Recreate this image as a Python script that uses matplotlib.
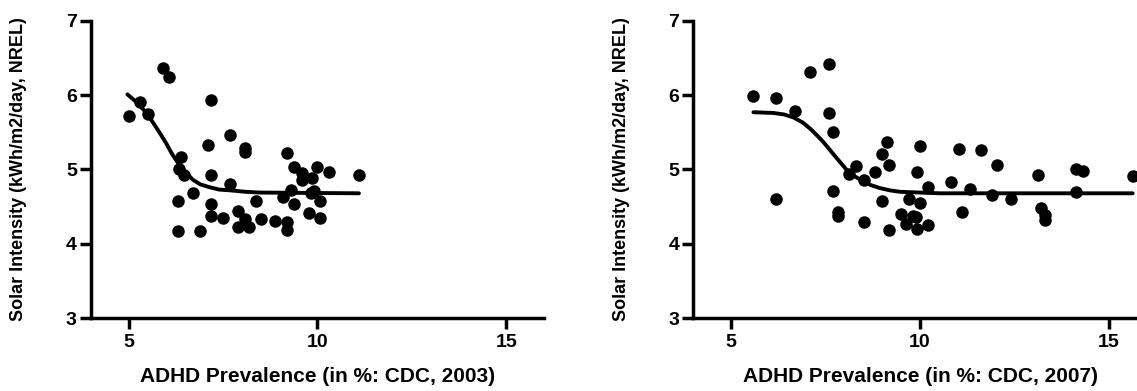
import matplotlib
matplotlib.use('Agg')
import matplotlib.pyplot as plt

plt.rcParams['font.family'] = ['Liberation Sans', 'DejaVu Sans']
plt.rcParams['font.weight'] = 'bold'

# ADHD prevalence 2003 vs solar intensity
x03 = [5.00, 5.30, 5.51, 5.91, 6.08, 7.18, 7.10, 7.68, 8.09, 8.09, 6.40, 6.34, 6.48, 7.18, 7.68,
       6.70, 6.30, 6.30, 6.90, 7.18, 7.18, 7.50, 7.90, 8.09, 7.90, 8.19, 8.38, 8.50, 8.89, 9.20,
       9.20, 9.20, 9.10, 9.29, 9.39, 9.39, 9.60, 9.60, 9.87, 9.98, 10.30, 9.82, 9.91, 9.79, 10.08,
       10.08, 11.09]
y03 = [5.72, 5.91, 5.74, 6.37, 6.25, 5.94, 5.33, 5.46, 5.29, 5.24, 5.17, 5.01, 4.92, 4.92, 4.81,
       4.68, 4.58, 4.17, 4.17, 4.54, 4.37, 4.35, 4.44, 4.34, 4.23, 4.23, 4.57, 4.34, 4.31, 4.29,
       4.18, 5.22, 4.63, 4.72, 5.03, 4.53, 4.95, 4.86, 4.88, 5.03, 4.97, 4.68, 4.71, 4.41, 4.57,
       4.35, 4.93]
# fitted curve
fit03_x = [4.97, 5.20, 5.48, 5.65, 5.83, 6.00, 6.14, 6.28, 6.41, 6.55, 6.71, 6.90, 7.16, 7.40,
           7.69, 8.10, 8.48, 11.10]
fit03_y = [6.01, 5.91, 5.76, 5.63, 5.49, 5.35, 5.22, 5.11, 5.02, 4.94, 4.86, 4.80, 4.76, 4.73,
           4.72, 4.70, 4.69, 4.68]

# ADHD prevalence 2007 vs solar intensity
x07 = [5.59, 6.20, 6.20, 6.69, 7.10, 7.60, 7.60, 7.70, 7.70, 7.82, 7.82, 8.11, 8.30, 8.51, 8.51,
       8.81, 9.00, 9.12, 9.19, 9.00, 9.19, 9.50, 9.62, 9.71, 9.82, 9.91, 9.91, 10.01, 10.01, 10.20,
       10.20, 9.90, 10.82, 11.02, 11.12, 11.33, 11.62, 11.90, 12.03, 12.41, 13.13, 13.20, 13.32,
       13.32, 14.12, 14.13, 14.31, 15.63]
y07 = [5.99, 5.96, 4.61, 5.79, 6.31, 6.42, 5.76, 5.50, 4.71, 4.43, 4.37, 4.94, 5.05, 4.86, 4.30,
       4.96, 5.21, 5.37, 5.06, 4.57, 4.19, 4.40, 4.27, 4.60, 4.37, 4.97, 4.20, 4.55, 5.32, 4.76,
       4.26, 4.36, 4.83, 5.28, 4.43, 4.74, 5.26, 4.66, 5.06, 4.60, 4.92, 4.48, 4.39, 4.32,
       4.70, 5.00, 4.98, 4.91]
fit07_x = [5.59, 6.12, 6.40, 6.65, 6.90, 7.09, 7.27, 7.44, 7.62, 7.80, 7.95, 8.10, 8.30, 8.50,
           8.70, 8.94, 9.20, 9.47, 10.00, 10.53, 15.63]
fit07_y = [5.77, 5.76, 5.74, 5.70, 5.63, 5.55, 5.46, 5.37, 5.26, 5.15, 5.06, 4.97, 4.90, 4.84,
           4.79, 4.75, 4.72, 4.70, 4.69, 4.68, 4.68]

xticks = [5, 10, 15]
yticks = [3, 4, 5, 6, 7]
ylabel = 'Solar Intensity (kWh/m2/day, NREL)'

fig = plt.figure(figsize=(11.37, 3.91), dpi=100)
ax1 = fig.add_axes([0.0798, 0.186, 0.3987, 0.761])
ax2 = fig.add_axes([0.6098, 0.186, 0.3987, 0.761])

panels = [(ax1, x03, y03, fit03_x, fit03_y, '2003'),
          (ax2, x07, y07, fit07_x, fit07_y, '2007')]

for ax, xs, ys, fx, fy, year in panels:
    ax.plot(xs, ys, 'o', color='black', ms=9, mew=0, clip_on=False, zorder=3)
    ax.plot(fx, fy, '-', color='black', lw=2.8, solid_capstyle='round', zorder=2)
    ax.set_xlim(4, 16)
    ax.set_ylim(3, 7)
    ax.set_xticks(xticks)
    ax.set_yticks(yticks)
    ax.spines['top'].set_visible(False)
    ax.spines['right'].set_visible(False)
    ax.spines['left'].set_linewidth(2.5)
    ax.spines['bottom'].set_linewidth(2.5)
    ax.tick_params(direction='out', length=8, width=2.5, labelsize=14, pad=2)
    ax.tick_params(axis='x', pad=3)
    ax.set_xlabel('ADHD Prevalence (in %%: CDC, %s)' % year, fontsize=15, fontweight='bold', labelpad=11.5)
    ax.set_ylabel(ylabel, fontsize=13, fontweight='bold')
    ax.yaxis.set_label_coords(-0.14, 0.5)

fig.savefig('out.png', dpi=100)
